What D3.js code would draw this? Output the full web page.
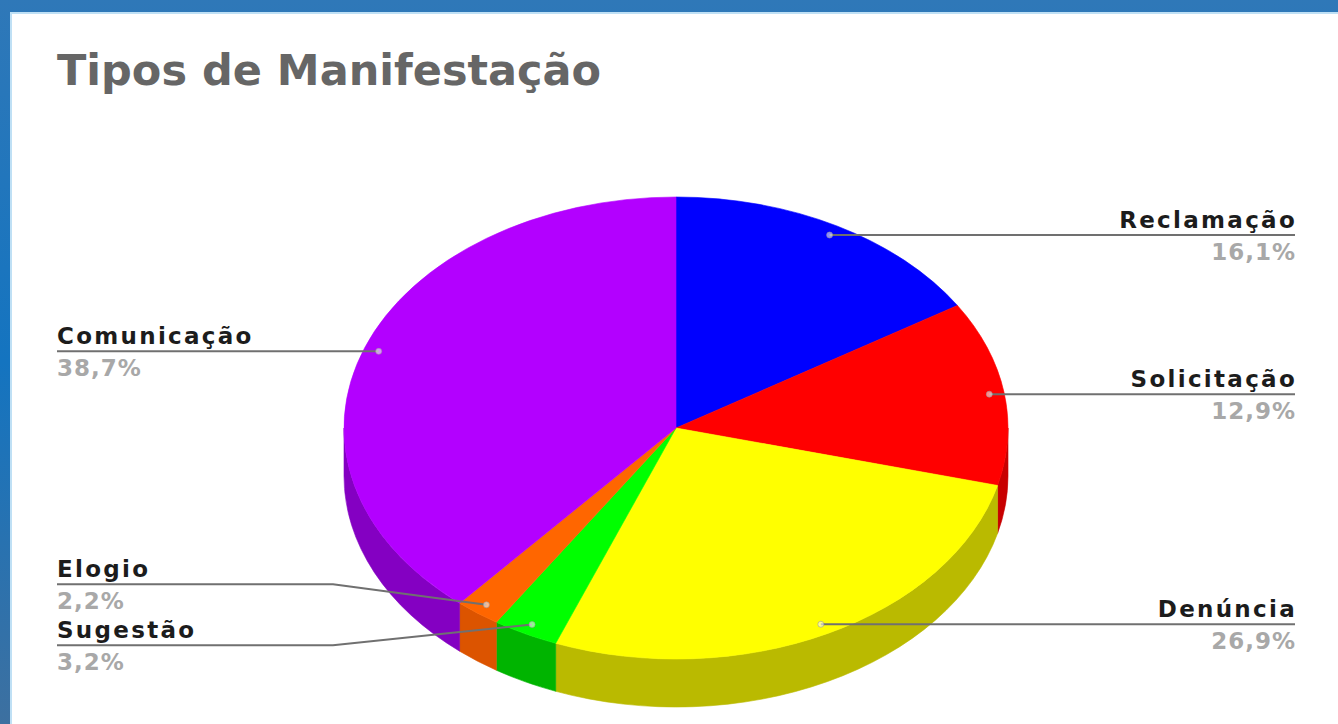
<!DOCTYPE html>
<html>
<head>
<meta charset="utf-8">
<script src="https://cdn.jsdelivr.net/npm/d3@7"></script>
<style>
  html, body { margin: 0; padding: 0; background: #ffffff; }
  svg { display: block; }
</style>
</head>
<body>
<svg id="chart" width="1338" height="724"></svg>
<script>
// ---- data ----
const title = "Tipos de Manifestação";
const categories = ["Reclamação", "Solicitação", "Denúncia", "Sugestão", "Elogio", "Comunicação"];
const values = [16.1, 12.9, 26.9, 3.2, 2.2, 38.7];
const topColors = ["#0000ff", "#ff0000", "#ffff00", "#00ff00", "#ff6600", "#b300ff"];
const sideColors = ["#0000b8", "#c80000", "#baba00", "#00b400", "#dc5400", "#8400c2"];

// ---- layout ----
const W = 1338, H = 724;
const cx = 676, cy = 428, rx = 332, ry = 231, depth = 48;
const anchorFactor = 0.955;
const leftX = 57, rightX = 1295, bendLen = 276, minGap = 61;

const svg = d3.select("#chart");
const fontFamily = "'DejaVu Sans', Verdana, sans-serif";

// frame
const defs = svg.append("defs");
const grad = defs.append("linearGradient").attr("id", "frameGrad")
  .attr("x1", 0).attr("y1", 0).attr("x2", 0).attr("y2", 1);
grad.append("stop").attr("offset", "0%").attr("stop-color", "#2f78b8");
grad.append("stop").attr("offset", "50%").attr("stop-color", "#1474c0");
grad.append("stop").attr("offset", "100%").attr("stop-color", "#3d70a0");
svg.append("rect").attr("width", W).attr("height", H).attr("fill", "url(#frameGrad)");
svg.append("rect").attr("x", 10).attr("y", 12).attr("width", W - 10).attr("height", H - 12)
  .attr("fill", "#bfe0f5");
svg.append("rect").attr("x", 12).attr("y", 14).attr("width", W - 12).attr("height", H - 14)
  .attr("fill", "#ffffff");

// title
svg.append("text")
  .attr("x", 57).attr("y", 85)
  .attr("font-family", fontFamily)
  .attr("font-weight", "bold")
  .attr("font-size", 43)
  .attr("fill", "#666666")
  .text(title);

// pie geometry
const arcs = d3.pie().sort(null).value(d => d)(values);
const color = d3.scaleOrdinal().domain(categories).range(topColors);
const sideColor = d3.scaleOrdinal().domain(categories).range(sideColors);

const k = ry / rx;              // vertical squash of the disc
const localDepth = depth / k;   // depth in the unsquashed frame
const pieG = svg.append("g").attr("transform", `translate(${cx},${cy}) scale(1,${k})`);

// side walls (only the front half, pie angles between pi/2 and 3pi/2)
function sidePath(a0, a1) {
  const s = Math.max(a0, Math.PI / 2), e = Math.min(a1, 3 * Math.PI / 2);
  if (e <= s) return null;
  const t0 = s - Math.PI / 2, t1 = e - Math.PI / 2;
  const p = d3.path();
  p.moveTo(rx * Math.cos(t0), rx * Math.sin(t0));
  p.arc(0, 0, rx, t0, t1, false);
  p.lineTo(rx * Math.cos(t1), rx * Math.sin(t1) + localDepth);
  p.arc(0, localDepth, rx, t1, t0, true);
  p.closePath();
  return p.toString();
}

arcs.forEach((a, i) => {
  const d = sidePath(a.startAngle, a.endAngle);
  if (d) {
    pieG.append("path")
      .attr("d", d)
      .attr("fill", sideColor(categories[i]))
      .attr("stroke", sideColor(categories[i]))
      .attr("stroke-width", 0.6)
      .attr("vector-effect", "non-scaling-stroke");
  }
});

const arcGen = d3.arc().innerRadius(0).outerRadius(rx);
pieG.selectAll("path.top")
  .data(arcs)
  .join("path")
  .attr("class", "top")
  .attr("d", arcGen)
  .attr("fill", (d, i) => color(categories[i]))
  .attr("stroke", (d, i) => color(categories[i]))
  .attr("stroke-width", 0.6)
  .attr("vector-effect", "non-scaling-stroke");

// label anchors
const labels = arcs.map((a, i) => {
  const mid = (a.startAngle + a.endAngle) / 2;
  const ax = cx + anchorFactor * rx * Math.sin(mid);
  const ay = cy - anchorFactor * ry * Math.cos(mid);
  return {
    name: categories[i],
    pct: values[i].toFixed(1).replace(".", ",") + "%",
    ax, ay,
    side: mid < Math.PI ? "right" : "left",
    y: ay
  };
});

// spread crowded labels on each side around their mean position
["left", "right"].forEach(side => {
  const group = labels.filter(l => l.side === side).sort((a, b) => a.ay - b.ay);
  let clusters = group.map(l => [l]);
  let merged = true;
  const place = c => {
    const mean = d3.mean(c, l => l.ay);
    c.forEach((l, j) => { l.y = mean + (j - (c.length - 1) / 2) * minGap; });
  };
  clusters.forEach(place);
  while (merged) {
    merged = false;
    for (let j = 0; j < clusters.length - 1; j++) {
      const a = clusters[j], b = clusters[j + 1];
      if (b[0].y - a[a.length - 1].y < minGap) {
        const c = a.concat(b);
        place(c);
        clusters.splice(j, 2, c);
        merged = true;
        break;
      }
    }
  }
});

const labelG = svg.append("g");
labels.forEach(l => {
  const isLeft = l.side === "left";
  const endX = isLeft ? leftX : rightX;
  const bendX = isLeft ? leftX + bendLen : rightX - bendLen;
  const pts = Math.abs(l.y - l.ay) < 1.5
    ? [[l.ax, l.y], [endX, l.y]]
    : [[l.ax, l.ay], [bendX, l.y], [endX, l.y]];
  labelG.append("path")
    .attr("d", d3.line()(pts))
    .attr("fill", "none")
    .attr("stroke", "#707070")
    .attr("stroke-width", 2);
  labelG.append("circle")
    .attr("cx", l.ax).attr("cy", l.ay).attr("r", 3)
    .attr("fill", "#ffffff").attr("fill-opacity", 0.55)
    .attr("stroke", "#999999").attr("stroke-opacity", 0.6).attr("stroke-width", 1);
  labelG.append("text")
    .attr("x", isLeft ? endX : endX + 2).attr("y", l.y - 7)
    .attr("text-anchor", isLeft ? "start" : "end")
    .attr("font-family", fontFamily)
    .attr("font-weight", "bold")
    .attr("font-size", 23)
    .attr("letter-spacing", 2.3)
    .attr("fill", "#1c1c1c")
    .text(l.name);
  labelG.append("text")
    .attr("x", isLeft ? endX : endX + 1).attr("y", l.y + 25)
    .attr("text-anchor", isLeft ? "start" : "end")
    .attr("font-family", fontFamily)
    .attr("font-weight", "bold")
    .attr("font-size", 23)
    .attr("letter-spacing", 1)
    .attr("fill", "#a8a8a8")
    .text(l.pct);
});
</script>
</body>
</html>
